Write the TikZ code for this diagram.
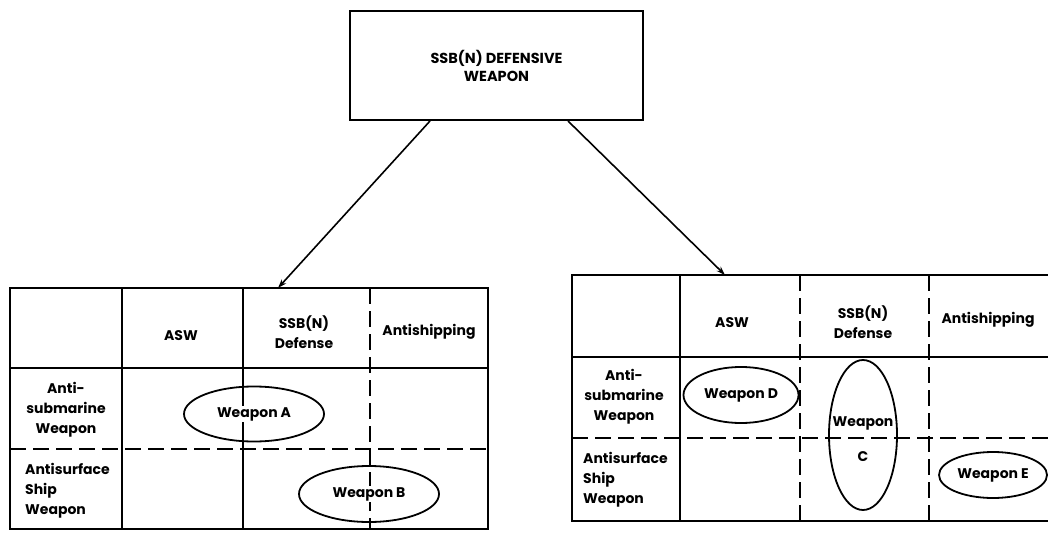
\documentclass[tikz,border=0pt]{standalone}
\usepackage{fontspec}
\setmainfont{Poppins}
\usetikzlibrary{arrows.meta,shapes.geometric}
\begin{document}
\begin{tikzpicture}[x=1pt,y=-1pt,
  every node/.style={font=\bfseries\fontsize{14}{20}\selectfont, inner sep=0pt},
  solidline/.style={line width=2pt},
  dashline/.style={line width=2pt, dash pattern=on 16pt off 7pt},
  wellipse/.style={ellipse, draw, line width=1.8pt},
  wtext/.style={fill=white, inner sep=1pt},
  conn/.style={line width=1.6pt, -{Stealth[length=9pt,width=6pt]}},
  titlebox/.style={draw, line width=2pt, align=center, font=\bfseries\fontsize{14.5}{18}\selectfont},
  rowlabel/.style={align=center},
  rowlabelL/.style={align=left, anchor=west},
]
\useasboundingbox (0,0) rectangle (1048,534);
\clip (0,0) rectangle (1048,534);

% title
\node[titlebox, minimum width=293pt, minimum height=109pt] (title) at (496.5,65.5) {SSB(N) DEFENSIVE\\WEAPON};

% left table
\draw[solidline] (10,288) rectangle (488,529);
\draw[solidline] (10,368) -- (488,368);
\draw[solidline] (122,288) -- (122,529);
\draw[solidline] (243,288) -- (243,529);
\draw[dashline] (370,288) -- (370,529);
\draw[dashline] (10,449) -- (488,449);

% right table
\draw[solidline] (1060,275) -- (572,275) -- (572,521) -- (1060,521);
\draw[solidline] (572,357) -- (1060,357);
\draw[solidline] (680,275) -- (680,521);
\draw[dashline] (800,275) -- (800,521);
\draw[dashline] (929,275) -- (929,521);
\draw[dashline] (572,438) -- (1060,438);

% connectors
\coordinate (ltip) at (278,288);
\coordinate (rtip) at (725,275);
\draw[conn] ([xshift=-66.5pt]title.south) -- (ltip);
\draw[conn] ([xshift=71.5pt]title.south) -- (rtip);

% left table texts
\node (lasw) at (181,336) {ASW};
\node[align=center] (lssbn) at (304,332) {SSB(N)\\Defense};
\node (lanti) at (429,332) {Antishipping};
\node[rowlabel] (lr1) at (66,410) {Anti-\\submarine\\Weapon};
\node[rowlabelL] (lr2) at (25,491) {Antisurface\\Ship\\Weapon};

% left ellipses
\node[wellipse, minimum width=140pt, minimum height=55pt] (ea) at (254,414) {};
\node[wtext] (ta) at (ea) {Weapon A};
\node[wellipse, minimum width=140pt, minimum height=56pt] (eb) at (369,494) {};
\node[wtext] (tb) at (eb) {Weapon B};

% right table texts
\node (rasw) at (732,323) {ASW};
\node[align=center] (rssbn) at (863,322) {SSB(N)\\Defense};
\node (ranti) at (988,320) {Antishipping};
\node[rowlabel] (rr1) at (624,397) {Anti-\\submarine\\Weapon};
\node[rowlabelL] (rr2) at (583,480) {Antisurface\\Ship\\Weapon};

% right ellipses
\node[wellipse, minimum width=115pt, minimum height=56pt] (ed) at (741,395) {};
\node[wtext] (td) at (ed) {Weapon D};
\node[wellipse, minimum width=68pt, minimum height=150pt] (ec) at (863,435) {};
\node (tc1) at (863,423) {Weapon};
\node (tc2) at (863,457) {C};
\node[wellipse, minimum width=108pt, minimum height=46pt] (ee) at (993,475) {};
\node[wtext] (te) at (ee) {Weapon E};
\end{tikzpicture}
\end{document}
